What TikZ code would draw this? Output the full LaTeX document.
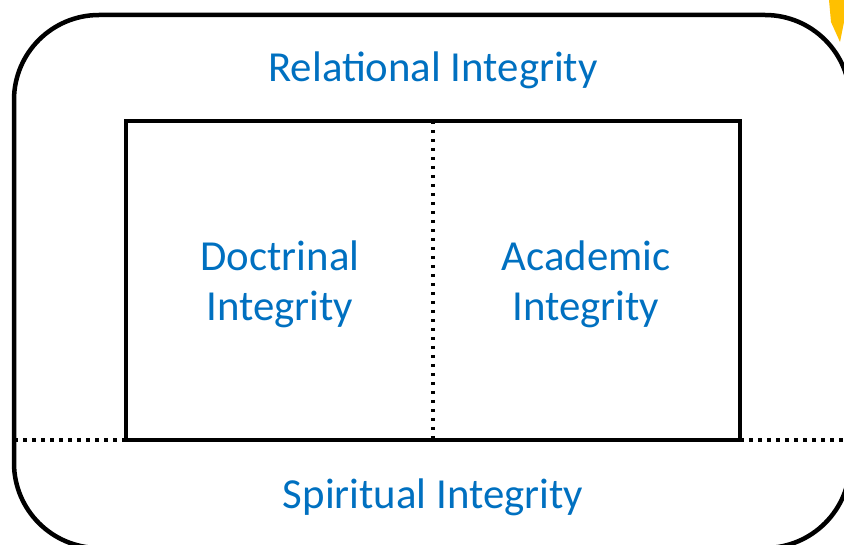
\documentclass[tikz,border=0pt]{standalone}
\usepackage{fontspec}
\setmainfont{Carlito}
\usepackage{xcolor}
\usepackage{tikz}

\definecolor{textblue}{HTML}{0070C0}
\definecolor{staryellow}{HTML}{FFC000}
\tikzset{
  integrity/.style={text=textblue, font=\fontsize{42.8}{50}\selectfont, align=center},
  dotline/.style={line width=3.5pt, dash pattern=on 3.5pt off 5.5pt}
}

\begin{document}
\begin{tikzpicture}[x=1pt,y=-1pt]
     \useasboundingbox (0,0) rectangle (844,545);
     \clip (0,0) rectangle (844,545);
     \fill[staryellow] (829,0) -- (844,0) -- (844,22) -- (840,42) -- (831,22) -- cycle;
     \draw[line width=4.5pt, rounded corners=85pt] (14,15) rectangle (850,548);
     \coordinate (tl) at (126,121);
     \coordinate (br) at (740,440);
     \coordinate (mt) at (433,121);
     \coordinate (mb) at (433,440);
     \coordinate (lo) at (14,440);
     \coordinate (ro) at (846,440);
     \draw[dotline] (mt) -- (mb);
     \draw[dotline] (lo) -- (tl |- br);
     \draw[dotline] (br) -- (ro);
     \draw[line width=3.5pt] (tl) rectangle (br);
     \node[integrity] (rel) at (433,70) {Relational Integrity};
     \node[integrity] (doc) at (280,284) {Doctrinal\\Integrity};
     \node[integrity] (aca) at (586,284) {Academic\\Integrity};
     \node[integrity] (spi) at (433,497) {Spiritual Integrity};
\end{tikzpicture}
\end{document}
